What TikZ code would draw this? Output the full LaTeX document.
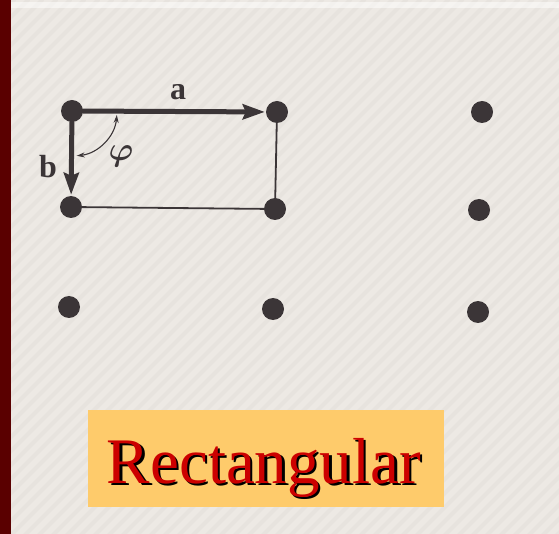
\documentclass[tikz,border=0pt]{standalone}
\usepackage{fontspec}
\setmainfont{Liberation Serif}
\usetikzlibrary{arrows.meta}
\definecolor{paper}{HTML}{EDE9E4}
\definecolor{stripe}{HTML}{D6D2CD}
\definecolor{barred}{HTML}{5A0000}
\definecolor{dotgray}{HTML}{3B3537}
\definecolor{boxorange}{HTML}{FECB6B}
\definecolor{titlered}{HTML}{CC0000}
\newcommand{\shadowed}[1]{\makebox[0pt][l]{\hspace*{2.5pt}\raisebox{-2.5pt}{\color{black}#1}}#1}
\tikzset{
  latticept/.style={circle, fill=dotgray, inner sep=0pt, minimum size=22pt},
  vec/.style={draw=dotgray, line width=5pt, -{Stealth[length=22pt,width=15pt,inset=3pt]}, shorten >=1pt},
  lbl/.style={font=\fontsize{32}{34}\selectfont\bfseries, text=dotgray, inner sep=0pt},
  titletext/.style={font=\fontsize{65}{70}\selectfont, anchor=base, inner sep=0pt},
}
\begin{document}
\begin{tikzpicture}[x=1pt, y=-1pt, line join=round, line cap=round]
				\useasboundingbox (0,0) rectangle (559,534);
				\fill[paper] (0,0) rectangle (559,534);
				\begin{scope}
				\clip (0,0) rectangle (559,534);
				\foreach \s in {0,14,...,1120}{\draw[stripe, line width=4pt, opacity=.25] (\s,0) -- ++(-560,560);}
				\end{scope}
				\fill[white, opacity=.5] (11,2) rectangle (559,8);
				\fill[barred] (0,0) rectangle (11,534);
				\foreach \n/\x/\y in {A/72/111,B/277/112,C/482/112,D/71/207,E/275/209,F/479/210,G/69/307,H/273/309,I/478/312}
				\node[latticept] (\n) at (\x,\y) {};
				\draw[dotgray, line width=1.8pt] (B) -- (E) -- (D);
				\draw[vec] (A) -- (B);
				\draw[vec] (A) -- (D);
				\draw[dotgray, line width=1.1pt, {Stealth[length=8pt,width=5pt]}-{Stealth[length=8pt,width=5pt]}]
				(A) ++(5:45) arc[start angle=5, end angle=84, radius=45];
				\node[lbl] (alabel) at (178,92) {a};
				\node[lbl] (blabel) at (48,167) {b};
				\node[lbl, font=\fontsize{20}{22}\selectfont] (philabel) at (121,156) {\scalebox{1.6}{\boldmath$\varphi$}};
				\node[fill=boxorange, minimum width=356pt, minimum height=97pt, inner sep=0pt] (titlebox) at (266,458.5) {};
				\node[titletext, text=titlered] (title) at (264,483) {\shadowed{Rectangular}};
\end{tikzpicture}
\end{document}
